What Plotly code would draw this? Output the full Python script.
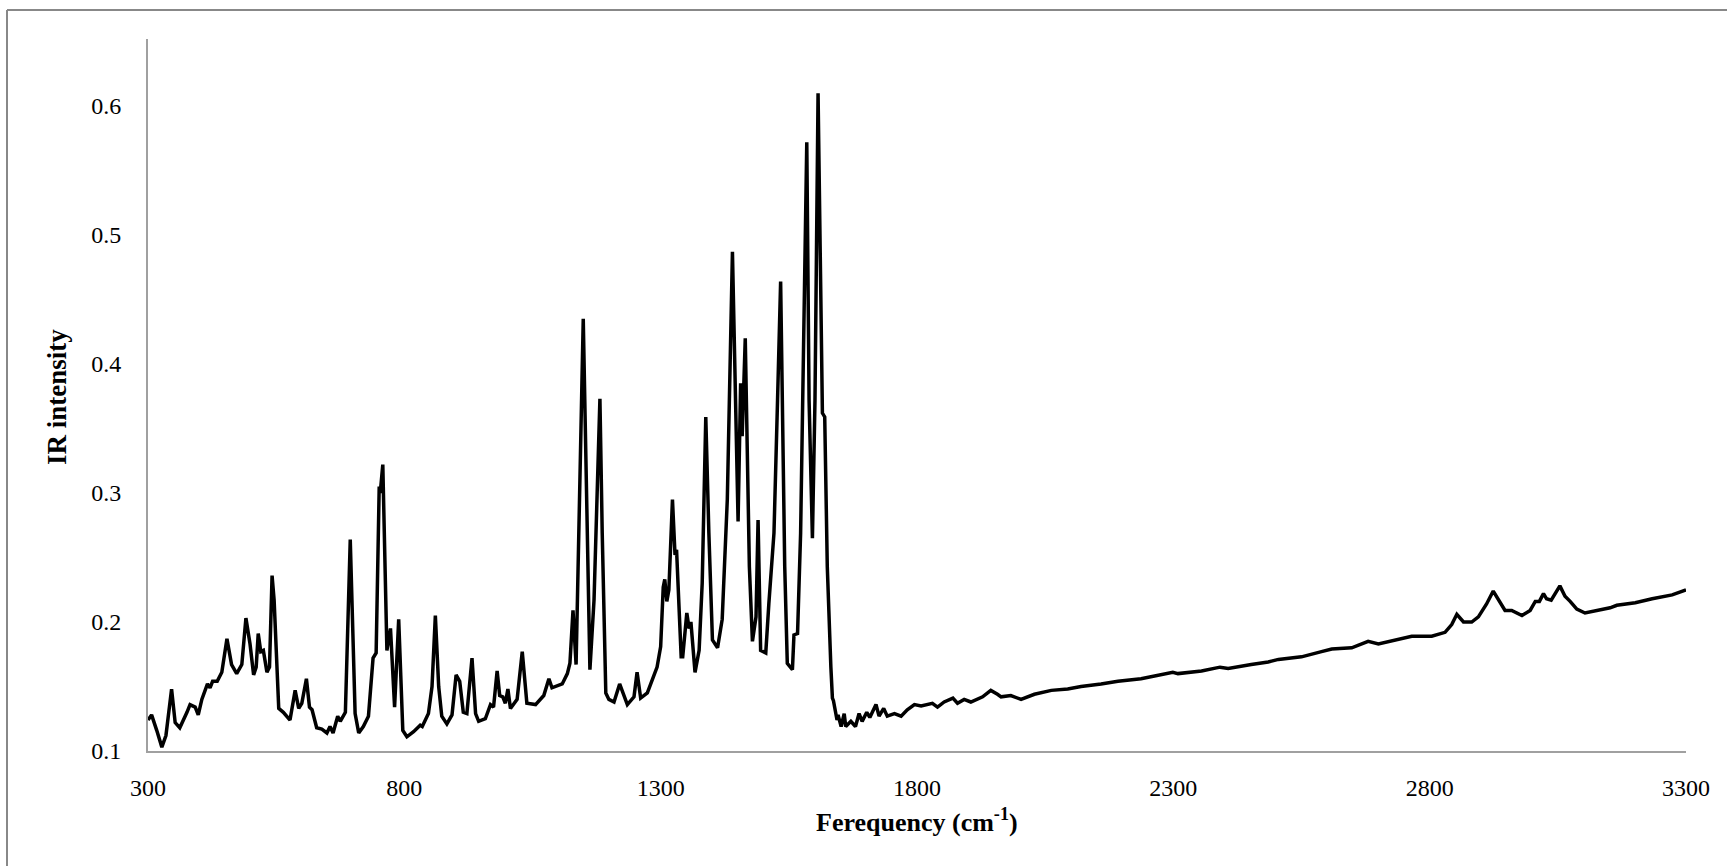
import plotly.graph_objects as go

# Frequency (cm-1) and IR intensity
freq = [300, 307, 317, 327, 335, 346, 353, 362, 376, 382, 392, 398, 405, 416, 421, 426, 435, 444, 454, 463,
        473, 483, 491, 499, 506, 511, 515, 520, 525, 532, 537, 542, 546, 555, 564, 577, 587, 594, 600, 609,
        615, 620, 629, 639, 649, 655, 661, 670, 675, 685, 694.5, 704, 711, 720, 730, 739, 745, 751, 753, 758,
        766, 773, 781, 789, 797, 805, 818, 831, 835, 847, 854, 860.5, 867, 873, 883, 893, 901, 908, 915, 922,
        932, 939, 945, 958, 968, 974, 981, 986, 992, 997, 1002, 1007, 1020, 1030, 1039, 1056, 1072, 1082, 1088, 1108,
        1118, 1123, 1129, 1135, 1149, 1162, 1170, 1177.5, 1181.5, 1186, 1193, 1199, 1209, 1220, 1235, 1248, 1254, 1261, 1274, 1293,
        1300, 1305, 1308, 1312, 1316, 1323, 1328, 1331, 1340, 1343, 1351, 1355.5, 1359, 1367, 1375, 1381, 1388, 1394, 1401, 1411,
        1420, 1430, 1440, 1451, 1456, 1459, 1465, 1473, 1479, 1486, 1490, 1495, 1505, 1511, 1521, 1528, 1534, 1542, 1547, 1557,
        1560, 1567, 1573, 1585, 1589.5, 1596, 1601, 1607, 1615.5, 1620, 1625, 1632, 1635, 1637, 1644, 1646, 1652, 1658, 1661, 1671,
        1680, 1687, 1693, 1702, 1708, 1720, 1726, 1735, 1742, 1756, 1769, 1781, 1795, 1808, 1830, 1840, 1853, 1870, 1879, 1892,
        1905, 1928, 1944, 1957, 1964, 1983, 2003, 2029, 2062, 2094, 2120, 2159, 2192, 2237, 2276, 2299, 2309, 2355, 2391, 2407,
        2452, 2485, 2505, 2550, 2589, 2609, 2648, 2680, 2700, 2732, 2765, 2804, 2830, 2843, 2853, 2866, 2882, 2895, 2911, 2924,
        2934, 2947, 2960, 2980, 2996, 3006, 3014, 3022, 3028, 3037, 3054, 3064, 3074, 3087, 3103, 3136, 3152, 3165, 3201, 3234,
        3273, 3300]

intensity = [0.124, 0.128, 0.116, 0.103, 0.112, 0.148, 0.122, 0.118, 0.130, 0.136, 0.134, 0.128, 0.140, 0.152, 0.149, 0.154, 0.154, 0.161, 0.187, 0.167,
             0.160, 0.167, 0.203, 0.183, 0.159, 0.165, 0.191, 0.177, 0.178, 0.161, 0.165, 0.236, 0.217, 0.133, 0.130, 0.124, 0.147, 0.133, 0.137, 0.156,
             0.134, 0.132, 0.118, 0.117, 0.114, 0.119, 0.114, 0.127, 0.123, 0.130, 0.264, 0.129, 0.114, 0.119, 0.127, 0.172, 0.176, 0.305, 0.300, 0.322,
             0.178, 0.195, 0.134, 0.202, 0.116, 0.111, 0.115, 0.120, 0.119, 0.129, 0.150, 0.205, 0.150, 0.127, 0.121, 0.128, 0.159, 0.154, 0.130, 0.129,
             0.172, 0.129, 0.123, 0.125, 0.136, 0.134, 0.162, 0.143, 0.142, 0.137, 0.148, 0.133, 0.140, 0.177, 0.137, 0.136, 0.143, 0.156, 0.149, 0.152,
             0.160, 0.168, 0.209, 0.167, 0.435, 0.163, 0.217, 0.320, 0.373, 0.269, 0.145, 0.140, 0.138, 0.152, 0.136, 0.142, 0.161, 0.141, 0.145, 0.165,
             0.181, 0.227, 0.233, 0.216, 0.225, 0.295, 0.252, 0.256, 0.173, 0.173, 0.207, 0.195, 0.200, 0.161, 0.178, 0.230, 0.359, 0.269, 0.186, 0.180,
             0.202, 0.295, 0.487, 0.278, 0.385, 0.344, 0.420, 0.243, 0.185, 0.204, 0.279, 0.178, 0.176, 0.214, 0.269, 0.372, 0.464, 0.243, 0.168, 0.163,
             0.190, 0.191, 0.269, 0.572, 0.372, 0.265, 0.372, 0.610, 0.362, 0.359, 0.243, 0.165, 0.141, 0.139, 0.124, 0.128, 0.119, 0.129, 0.119, 0.123,
             0.119, 0.129, 0.123, 0.130, 0.126, 0.136, 0.127, 0.133, 0.127, 0.129, 0.127, 0.132, 0.136, 0.135, 0.137, 0.134, 0.138, 0.141, 0.137, 0.140,
             0.138, 0.142, 0.147, 0.144, 0.142, 0.143, 0.140, 0.144, 0.147, 0.148, 0.150, 0.152, 0.154, 0.156, 0.159, 0.161, 0.160, 0.162, 0.165, 0.164,
             0.167, 0.169, 0.171, 0.173, 0.177, 0.179, 0.180, 0.185, 0.183, 0.186, 0.189, 0.189, 0.192, 0.198, 0.206, 0.200, 0.200, 0.204, 0.214, 0.224,
             0.217, 0.209, 0.209, 0.205, 0.209, 0.216, 0.216, 0.222, 0.218, 0.217, 0.228, 0.220, 0.216, 0.210, 0.207, 0.210, 0.211, 0.213, 0.215, 0.218,
             0.221, 0.225]

x_ticks = [300, 800, 1300, 1800, 2300, 2800, 3300]
y_ticks = [0.1, 0.2, 0.3, 0.4, 0.5, 0.6]

W, H = 1727, 866
L, R, T, B = 148, 1686, 39, 751  # plot area in pixels
pw, ph = R - L, B - T

def px(xp):
    return (xp - L) / pw

def py(yp):
    return (B - yp) / ph

FONT = "Liberation Serif"

fig = go.Figure()
fig.add_trace(go.Scatter(x=freq, y=intensity, mode="lines",
                         line=dict(color="black", width=3.5, shape="linear"), showlegend=False,
                         hoverinfo="x+y"))

fig.update_layout(
    width=W, height=H,
    margin=dict(l=L, r=W - R, t=T, b=H - B, pad=0),
    paper_bgcolor="white", plot_bgcolor="white",
    font=dict(family=FONT, color="black", size=24),
    xaxis=dict(range=[300, 3300], tickvals=x_ticks, ticktext=[str(v) for v in x_ticks],
               showgrid=False, zeroline=False, showline=True, linecolor="#a0a0a0", linewidth=2,
               ticks="", ticklabelstandoff=14, tickfont=dict(family=FONT, size=24, color="black")),
    yaxis=dict(range=[0.1, 0.652], tickvals=y_ticks, ticktext=[f"{v:.1f}" for v in y_ticks],
               showgrid=False, zeroline=False, showline=True, linecolor="#a0a0a0", linewidth=2,
               ticks="", ticklabelstandoff=20, tickfont=dict(family=FONT, size=24, color="black")),
    annotations=[
        dict(text="<b>Ferequency (cm<sup>-1</sup>)</b>", xref="paper", yref="paper",
             x=px(917), y=py(820), xanchor="center", yanchor="middle", showarrow=False,
             font=dict(family=FONT, size=26, color="black")),
        dict(text="<b>IR intensity</b>", xref="paper", yref="paper", textangle=-90,
             x=px(57), y=py(397), xanchor="center", yanchor="middle", showarrow=False,
             font=dict(family=FONT, size=27, color="black")),
    ],
    shapes=[
        dict(type="line", xref="paper", yref="paper", x0=px(7), x1=px(W + 5), y0=py(10), y1=py(10),
             line=dict(color="#888888", width=2)),
        dict(type="line", xref="paper", yref="paper", x0=px(7), x1=px(7), y0=py(10), y1=py(H + 5),
             line=dict(color="#888888", width=2)),
    ],
)

fig.write_html("out.html")
